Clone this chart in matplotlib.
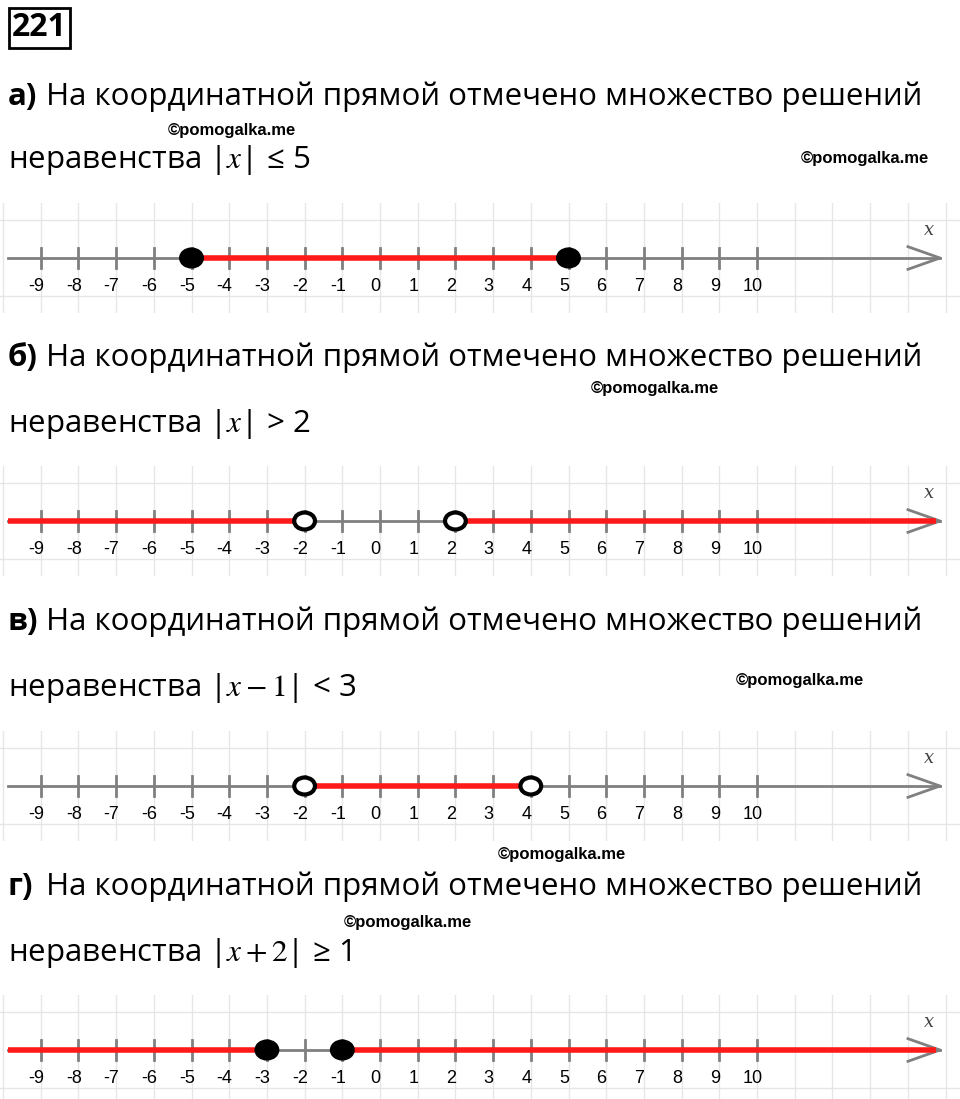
import matplotlib
matplotlib.use("Agg")
import matplotlib.pyplot as plt
import numpy as np
from matplotlib.patches import Ellipse

plt.rcParams["mathtext.fontset"] = "stix"
W, H = 960, 1099
fig = plt.figure(figsize=(9.6, 10.99), dpi=100)

ticks = list(range(-9, 11))
letters = ["а)", "б)", "в)", "г)"]
inequalities = [r"|$x$| ≤ 5", r"|$x$| > 2", r"|$x-1$| < 3", r"|$x+2$| ≥ 1"]
# solution segments (None = to the edge of line)
segments = [[(-5, 5)], [(None, -2), (2, None)], [(-2, 4)], [(None, -3), (-1, None)]]
points = [[(-5, True), (5, True)], [(-2, False), (2, False)],
          [(-2, False), (4, False)], [(-3, True), (-1, True)]]

axis_y = [258, 521, 786, 1050]
head_y = [97, 358, 622, 887]
ineq_y = [160, 424, 688, 953]
marks = [[(232, 131), (865, 158)], [(655, 388)], [(800, 681)], [(562, 854), (408, 922)]]

px_unit = 37.7
x0_px = 380
xlim = (-x0_px / px_unit, (W - x0_px) / px_unit)
left_end = (8 - x0_px) / px_unit
right_end = (940 - x0_px) / px_unit

def fx(px): return px / W
def fy(py): return 1 - py / H

fig.text(fx(12), fy(28), "221", fontsize=23, fontweight="bold", family="Open Sans",
         va="center", ha="left",
         bbox=dict(boxstyle="square,pad=0.1", fc="white", ec="black", lw=2))

for i in range(4):
    fig.text(fx(8), fy(head_y[i]), letters[i], fontsize=22.5, fontweight="bold",
             family="Open Sans", va="center", ha="left")
    fig.text(fx(46), fy(head_y[i]), "На координатной прямой отмечено множество решений",
             fontsize=22.5, family="Open Sans", va="center", ha="left")
    fig.text(fx(8), fy(ineq_y[i]), "неравенства " + inequalities[i], fontsize=22.5,
             family="Open Sans", va="center", ha="left")
    for (mx, my) in marks[i]:
        fig.text(fx(mx), fy(my), "©pomogalka.me", fontsize=12, fontweight="bold",
                 family="Liberation Sans", va="center", ha="center")

    hpx = 110
    ax = fig.add_axes([0, fy(axis_y[i] + hpx / 2), 1, hpx / H])
    half = hpx / 2 / px_unit
    ax.set_xlim(*xlim)
    ax.set_ylim(-half, half)
    ax.axis("off")
    for g in range(-10, 16):
        ax.axvline(g, color="#e6e6e6", lw=1, zorder=0)
    for g in (-1, 1):
        ax.axhline(g, color="#e6e6e6", lw=1, zorder=0)
    ax.plot([left_end, right_end], [0, 0], color="#808080", lw=2, zorder=1)
    ax.plot([right_end - 0.85, right_end, right_end - 0.85], [0.3, 0, -0.3],
            color="#808080", lw=2, zorder=1)
    ax.text(right_end - 0.3, 0.75, "x", fontsize=13, style="italic", family="DejaVu Serif",
            color="#444444", ha="center", va="center")
    for t in ticks:
        ax.plot([t, t], [-0.27, 0.27], color="#808080", lw=2, zorder=1)
        ax.text(t - 0.12, -0.75, str(t), fontsize=13, family="Liberation Sans",
                ha="center", va="center")
    for a, b in segments[i]:
        a = left_end if a is None else a
        b = right_end - 0.1 if b is None else b
        ax.plot([a, b], [0, 0], color="#ff1a1a", lw=4, zorder=2, solid_capstyle="butt")
    for p, filled in points[i]:
        ax.add_patch(Ellipse((p, 0), 0.55, 0.45, fc="black" if filled else "white",
                             ec="black", lw=3, zorder=3))

fig.savefig("out.png", dpi=100)
